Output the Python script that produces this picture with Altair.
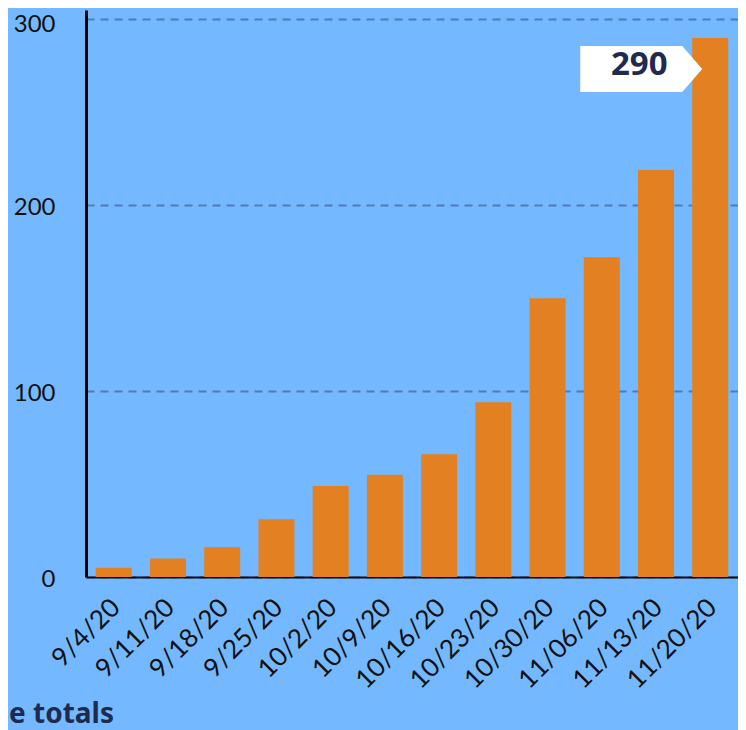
import altair as alt
import pandas as pd

dates = ["9/4/20", "9/11/20", "9/18/20", "9/25/20", "10/2/20", "10/9/20",
         "10/16/20", "10/23/20", "10/30/20", "11/06/20", "11/13/20", "11/20/20"]
totals = [5, 10, 16, 31, 49, 55, 66, 94, 150, 172, 219, 290]
y_ticks = [0, 100, 200, 300]
footer_text = "e totals"

df = pd.DataFrame({"date": dates, "total": totals})
last = df.tail(1)

BG = "#74b9ff"
BAR = "#e28022"
NAVY = "#1f2a4e"

x_enc = alt.X("date:N", sort=None, title=None,
              scale=alt.Scale(paddingInner=0.336, paddingOuter=0.18),
              axis=alt.Axis(labelAngle=-45, labelAlign="right", labelBaseline="top",
                            labelFontSize=26, labelFont="Lato", labelColor="#111111",
                            labelPadding=17, labelOffset=-7, tickSize=0,
                            domainColor="#0a0a14", domainWidth=2, grid=False))
y_enc = alt.Y("total:Q", title=None,
              scale=alt.Scale(domain=[0, 305], nice=False),
              axis=alt.Axis(values=y_ticks, labelFontSize=24, labelFont="Lato",
                            labelColor="#111111", labelPadding=31,
                            labelOffset={"condition": {"test": "datum.value >= 300", "value": 5},
                                         "value": 2},
                            tickSize=0, domainColor="#000000", domainWidth=3,
                            grid=True, gridColor="#4f7db3", gridWidth=2,
                            gridDash=[8, 6]))

bars = alt.Chart(df).mark_bar(color=BAR).encode(x=x_enc, y=y_enc)

tag = alt.Chart(last).mark_point(
    shape="M-1,-0.377L0.672,-0.377L1,0L0.672,0.377L-1,0.377Z",
    size=14884, filled=True, fill="white", strokeWidth=0, opacity=1,
    xOffset=-69, yOffset=31
).encode(x=alt.X("date:N", sort=None), y="total:Q")

tag_text = alt.Chart(last).mark_text(
    font="Noto Sans", fontWeight="bold", fontSize=33, color=NAVY,
    align="center", baseline="middle", dx=-71, dy=27
).encode(x=alt.X("date:N", sort=None), y="total:Q", text=alt.Text("total:Q"))

footer = alt.Chart(pd.DataFrame({"t": [footer_text]})).mark_text(
    font="Noto Sans", fontWeight="bold", fontSize=28, color=NAVY,
    align="left", baseline="alphabetic"
).encode(x=alt.value(-77), y=alt.value(713), text="t:N")

chart = alt.layer(bars, tag, tag_text, footer).properties(
    width=652, height=567,
    background=BG,
    padding={"left": 78, "top": 2, "right": 0, "bottom": 153},
    autosize=alt.AutoSizeParams(type="none"),
).configure_view(stroke=None)

chart.save("out.html", embed_options={"renderer": "svg", "actions": False})
